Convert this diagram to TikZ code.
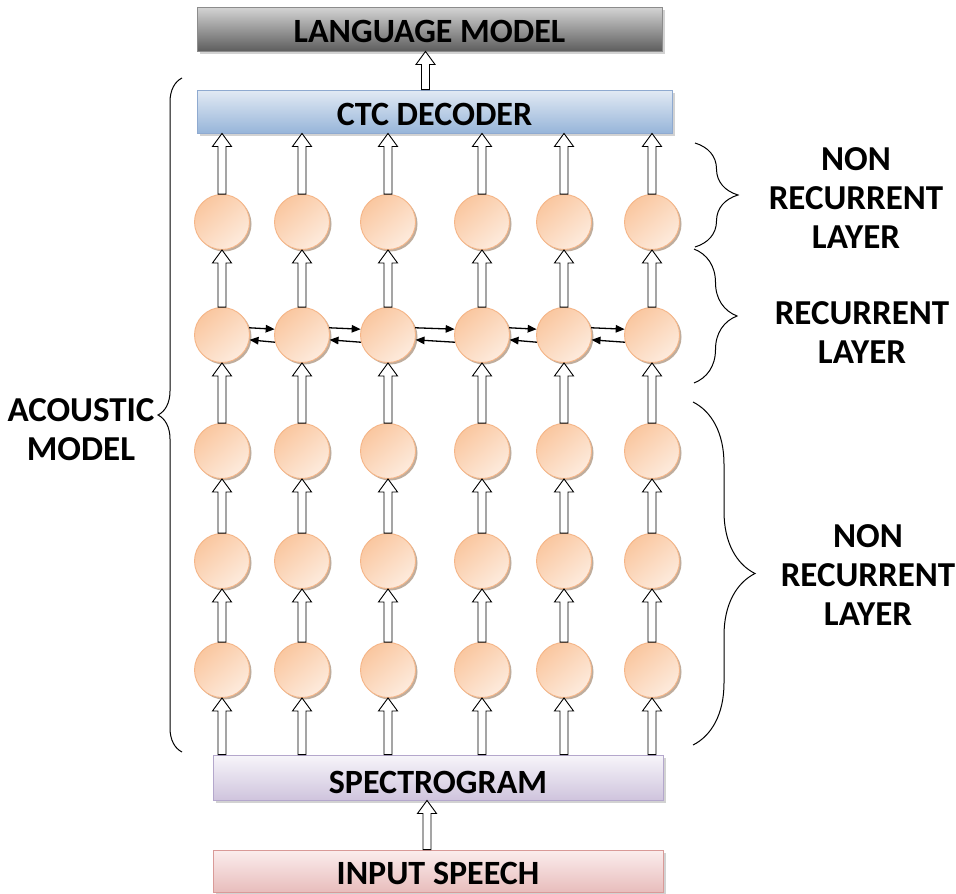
\documentclass[tikz,border=0pt]{standalone}
\usepackage{fontspec}
\setmainfont{Carlito}
\usetikzlibrary{calc,shadows,arrows.meta,decorations.pathreplacing}

\definecolor{lmtop}{HTML}{D4D4D4}
\definecolor{lmbot}{HTML}{5E5E5E}
\definecolor{lmline}{HTML}{8C8C8C}
\definecolor{ctctop}{HTML}{E2EAF4}
\definecolor{ctcbot}{HTML}{97B5D9}
\definecolor{ctcline}{HTML}{8FAAD0}
\definecolor{spectop}{HTML}{F7F5FA}
\definecolor{specbot}{HTML}{CFC4DD}
\definecolor{specline}{HTML}{B4A7CC}
\definecolor{intop}{HTML}{FBEDED}
\definecolor{inbot}{HTML}{E8BDBC}
\definecolor{inline}{HTML}{D99A98}
\definecolor{celldark}{HTML}{FAC7A0}
\definecolor{celllight}{HTML}{FDEBDD}
\definecolor{cellline}{HTML}{F5B587}
\definecolor{cellshadow}{HTML}{B09985}

\tikzset{
  box/.style={rectangle, draw, line width=0.9pt, shading=axis,
    drop shadow={shadow xshift=2.5pt, shadow yshift=-2.5pt, fill=black!35}},
  lmbox/.style={box, draw=lmline, top color=lmtop, bottom color=lmbot},
  ctcbox/.style={box, draw=ctcline, top color=ctctop, bottom color=ctcbot},
  specbox/.style={box, draw=specline, top color=spectop, bottom color=specbot},
  inbox/.style={box, draw=inline, top color=intop, bottom color=inbot},
  boxtext/.style={font=\bfseries\fontsize{34}{38}\selectfont, inner sep=0pt},
  sidetext/.style={font=\bfseries\fontsize{35}{39}\selectfont, align=center, inner sep=0pt},
  cell/.style={circle, minimum size=55pt, inner sep=0pt, draw=cellline, line width=0.9pt,
    shading=axis, top color=celldark, bottom color=celllight, shading angle=40,
    drop shadow={shadow xshift=2pt, shadow yshift=-2pt, fill=cellshadow, opacity=0.8}},
  blockarrow/.style={draw=black, fill=white, line width=0.9pt, line join=miter},
  recarrow/.style={line width=1.3pt, -{Triangle[length=9pt, width=7.5pt]}},
  bracket/.style={line width=1pt, decorate},
}

% hollow block arrow pointing up, from #1 to #2 (x taken from #1)
\newcommand\blockup[2]{%
  \draw[blockarrow] let \p1=(#1), \p2=(#2) in
    (\x1-4pt,\y1) -- (\x1-4pt,\y2-13pt) -- (\x1-9.5pt,\y2-13pt) -- (\x1,\y2)
    -- (\x1+9.5pt,\y2-13pt) -- (\x1+4pt,\y2-13pt) -- (\x1+4pt,\y1) -- cycle;}

\begin{document}
\begin{tikzpicture}[x=1pt, y=-1pt]
\fill[white] (0,0) rectangle (956,894);
\useasboundingbox (0,0) rectangle (956,894);

% model blocks
\node[lmbox, minimum width=465pt, minimum height=44pt] (lm) at (429.5,29) {};
\node[boxtext] at ([yshift=-2pt]lm.center) {LANGUAGE MODEL};
\node[ctcbox, minimum width=475pt, minimum height=43pt] (ctc) at (434.5,111.5) {};
\node[boxtext] at ([yshift=-3pt]ctc.center) {CTC DECODER};
\node[specbox, minimum width=450pt, minimum height=45pt] (spec) at (438,777.5) {};
\node[boxtext] at ([yshift=-5pt]spec.center) {SPECTROGRAM};
\node[inbox, minimum width=450pt, minimum height=42pt] (in) at (438,871) {};
\node[boxtext] at ([yshift=-2pt]in.center) {INPUT SPEECH};

% network cells: rows 1..5 (top to bottom), columns 1..6
\foreach \r/\y in {1/222, 2/335, 3/451, 4/561, 5/670}
  \foreach \c/\x in {1/222, 2/302, 3/388, 4/482, 5/564, 6/652}
    \node[cell] (c\r-\c) at (\x,\y) {};

% feed-forward block arrows
\blockup{[xshift=-9pt]ctc.north}{lm.south}
\blockup{[xshift=-11pt]in.north}{spec.south}
\foreach \c in {1,...,6} {
  \blockup{c1-\c.north}{ctc.south -| c1-\c}
  \blockup{c2-\c.north}{c1-\c.south}
  \blockup{c3-\c.north}{c2-\c.south}
  \blockup{c4-\c.north}{c3-\c.south}
  \blockup{c5-\c.north}{c4-\c.south}
  \blockup{spec.north -| c5-\c}{c5-\c.south}
}

% recurrent connections in both directions
\foreach \a/\b in {1/2, 2/3, 3/4, 4/5, 5/6} {
  \draw[recarrow] (c2-\a.15) -- (c2-\b.168);
  \draw[recarrow] (c2-\b.-165) -- (c2-\a.-10);
}

% braces and labels
\draw[bracket, decoration={brace, amplitude=24pt}] (182,752) -- (182,78);
\node[sidetext] at (81,430) {ACOUSTIC\\MODEL};

\draw[bracket, decoration={brace, amplitude=43pt}] (695,143) -- (695,247);
\node[sidetext] at (856,198) {NON\\RECURRENT\\LAYER};

\draw[bracket, decoration={brace, amplitude=43pt}] (694,249) -- (694,383);
\node[sidetext] at (862,333) {RECURRENT\\LAYER};

\draw[bracket, decoration={brace, amplitude=62pt}] (693,402) -- (693,745);
\node[sidetext] at (868,575) {NON\\RECURRENT\\LAYER};
\end{tikzpicture}
\end{document}
